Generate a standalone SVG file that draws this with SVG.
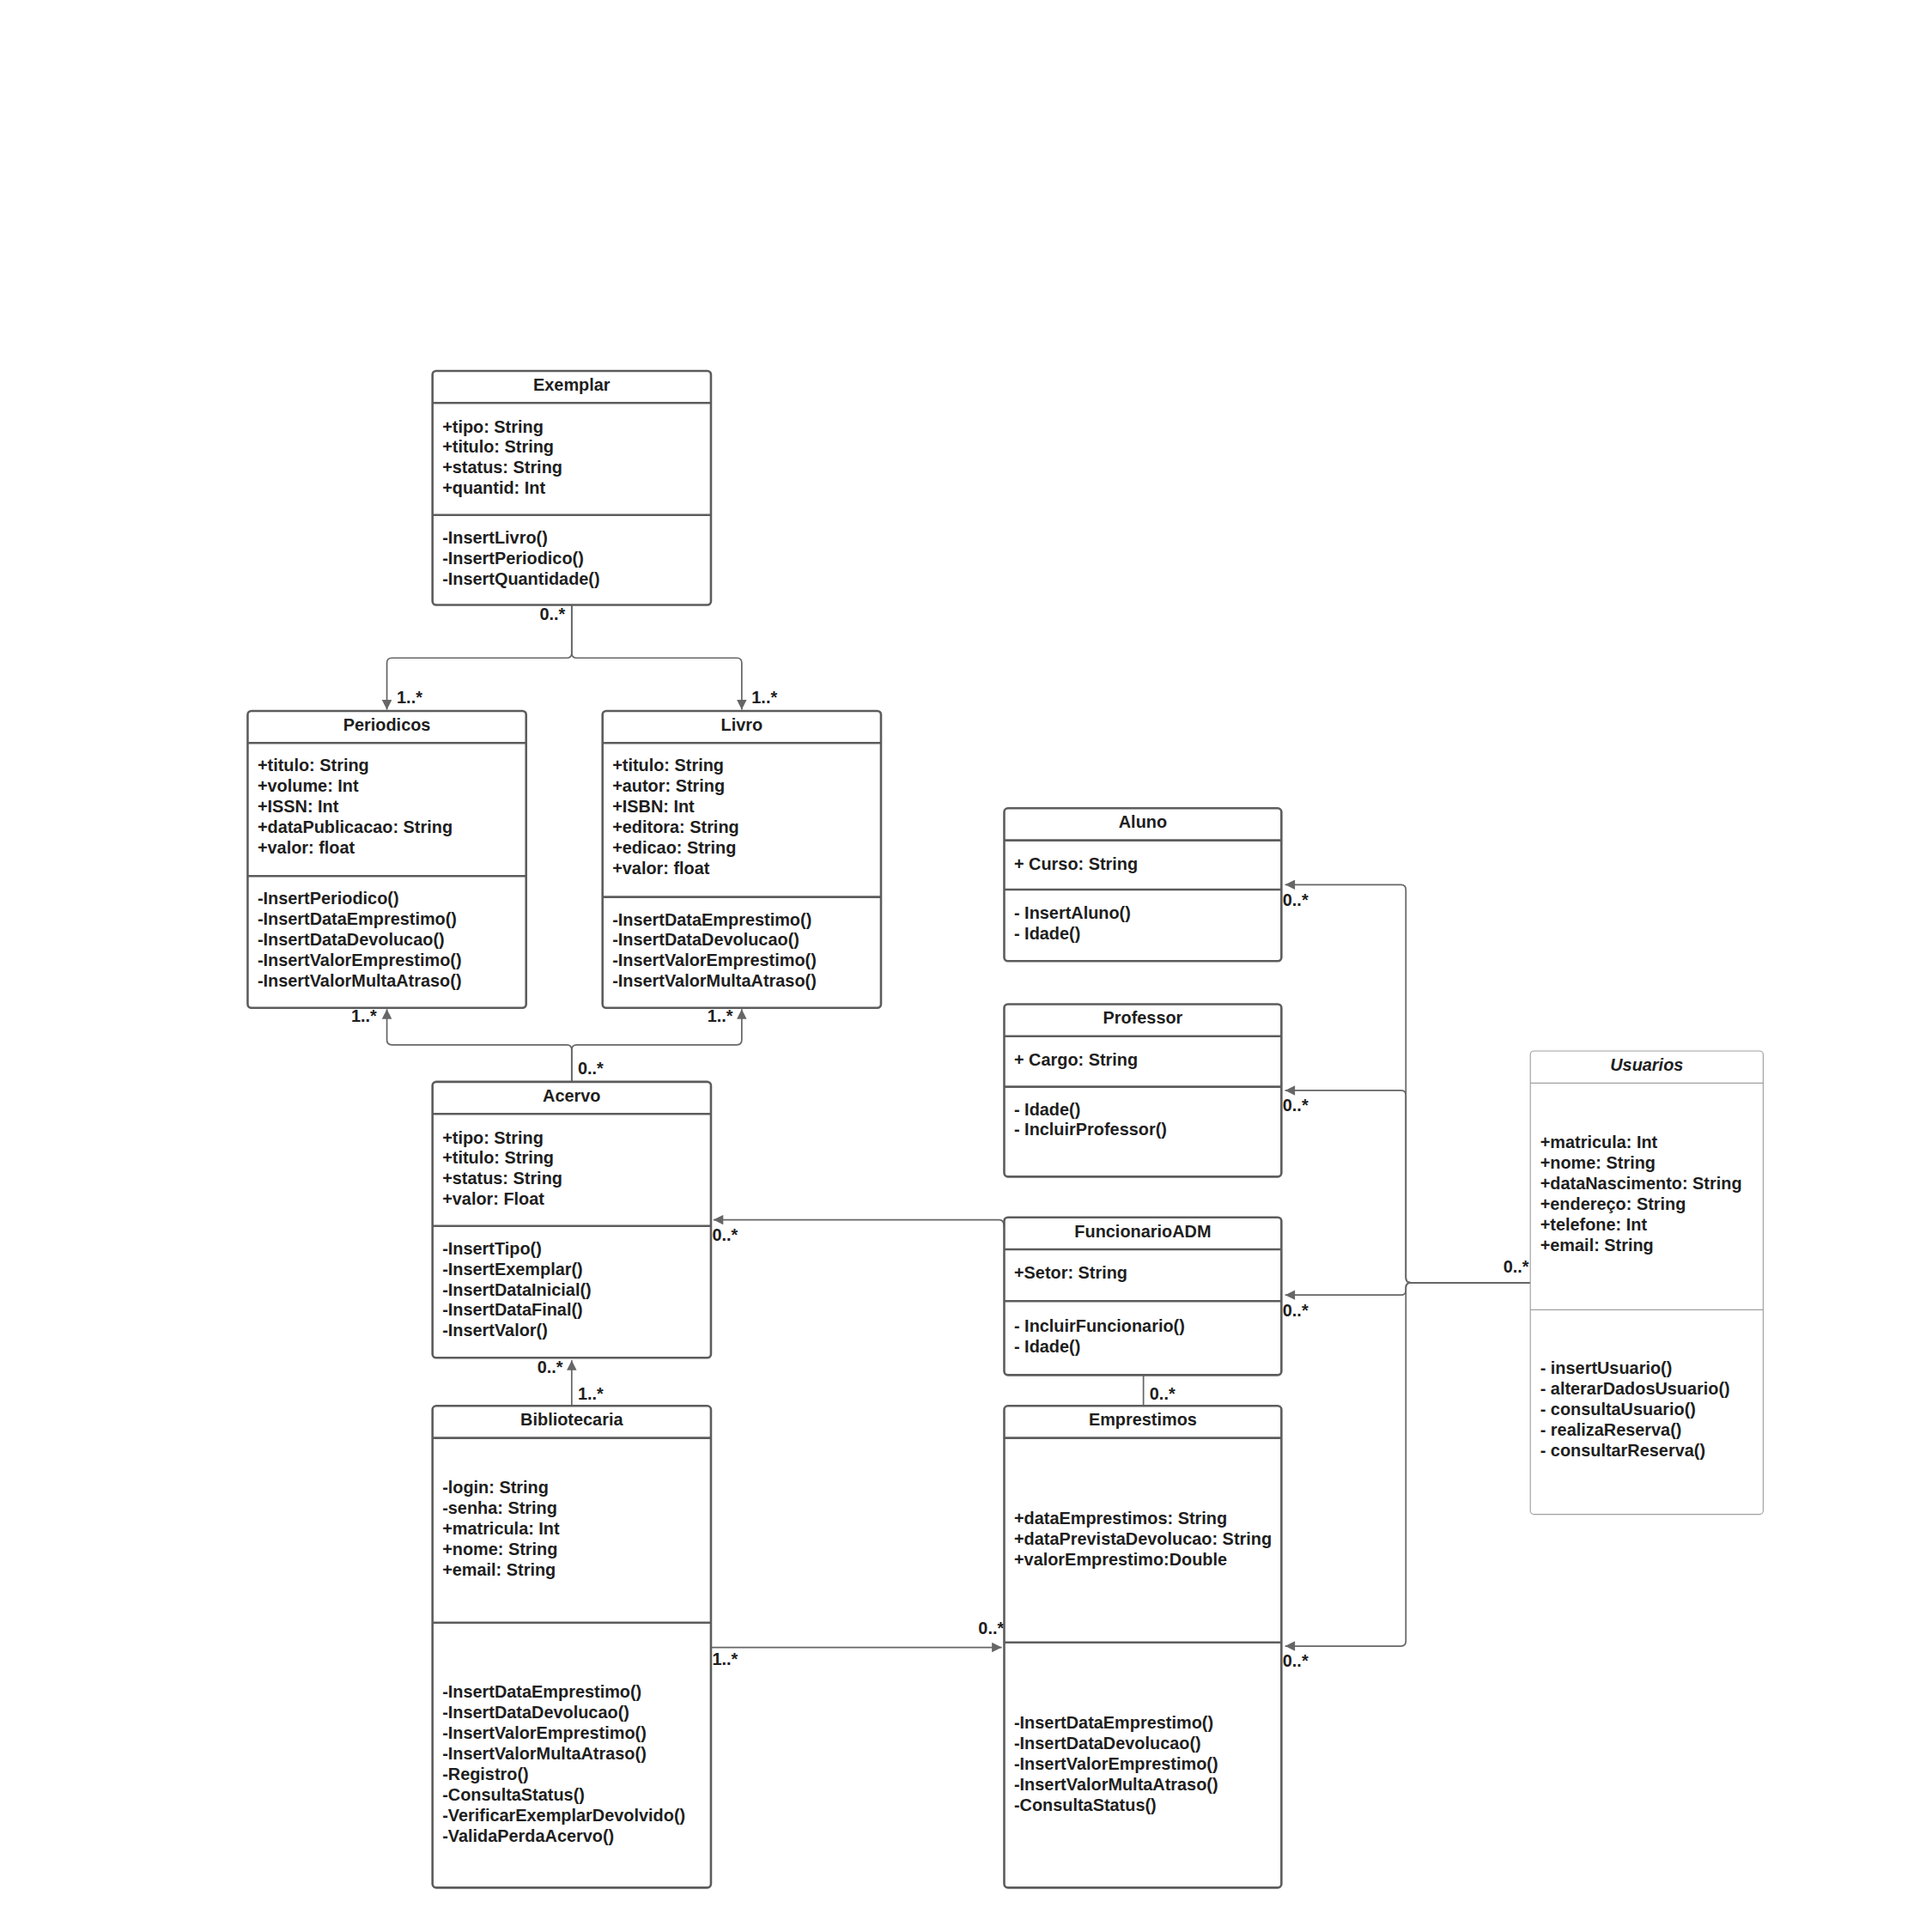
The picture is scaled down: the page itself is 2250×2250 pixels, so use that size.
<svg xmlns="http://www.w3.org/2000/svg" width="2250" height="2250" viewBox="0 0 2250 2250">
<style>
.box{fill:#fff;stroke:#5c5c5c;stroke-width:1.8}
.ubox{fill:#fff;stroke:#a0a0a0;stroke-width:0.8}
.sep{stroke:#5c5c5c;stroke-width:1.8}
.usep{stroke:#a0a0a0;stroke-width:0.8}
.t{font-family:"Liberation Sans",Arial,sans-serif;font-weight:bold;font-size:13.87px;fill:#1e1e1e}
.c{text-anchor:middle}
.i{font-style:italic}
.con{fill:none;stroke:#666;stroke-width:1.2}
</style>
<defs>
<marker id="arr" viewBox="0 0 10 10" refX="10" refY="5" markerWidth="11" markerHeight="8" markerUnits="userSpaceOnUse" orient="auto">
<path d="M0,0 L10,5 L0,10 z" fill="#666"/>
</marker>
</defs>
<rect width="2250" height="2250" fill="#fff"/>
<g transform="scale(1.43495)">
<g id="connectors">
<path class="con" d="M464 491 L464 530 Q464 534 460 534 L318 534 Q314 534 314 538 L314 576" marker-end="url(#arr)"/>
<path class="con" d="M464 491 L464 530 Q464 534 468 534 L598 534 Q602 534 602 538 L602 576" marker-end="url(#arr)"/>
<path class="con" d="M464 878 L464 852 Q464 848 460 848 L318 848 Q314 848 314 844 L314 819" marker-end="url(#arr)"/>
<path class="con" d="M464 878 L464 852 Q464 848 468 848 L598 848 Q602 848 602 844 L602 819" marker-end="url(#arr)"/>
<path class="con" d="M1242 1041 L1145 1041 Q1141 1041 1141 1037 L1141 722 Q1141 718 1137 718 L1043 718" marker-end="url(#arr)"/>
<path class="con" d="M1242 1041 L1145 1041 Q1141 1041 1141 1037 L1141 889 Q1141 885 1137 885 L1043 885" marker-end="url(#arr)"/>
<path class="con" d="M1242 1041 L1145 1041 Q1141 1041 1141 1045 L1141 1047 Q1141 1051 1137 1051 L1043 1051" marker-end="url(#arr)"/>
<path class="con" d="M1242 1041 L1145 1041 Q1141 1041 1141 1045 L1141 1332 Q1141 1336 1137 1336 L1043 1336" marker-end="url(#arr)"/>
<path class="con" d="M815 996 Q815 990 811 990 L579 990" marker-end="url(#arr)"/>
<path class="con" d="M928 1116 L928 1141"/>
<path class="con" d="M577 1337 L813 1337" marker-end="url(#arr)"/>
<path class="con" d="M464 1141 L464 1104" marker-end="url(#arr)"/>
<g class="t">
<text x="438" y="503">0..*</text>
<text x="322" y="571">1..*</text>
<text x="610" y="571">1..*</text>
<text x="285" y="829">1..*</text>
<text x="574" y="829">1..*</text>
<text x="469" y="872">0..*</text>
<text x="1041" y="735">0..*</text>
<text x="1041" y="902">0..*</text>
<text x="1041" y="1068">0..*</text>
<text x="1041" y="1353">0..*</text>
<text x="1220" y="1033">0..*</text>
<text x="578" y="1007">0..*</text>
<text x="933" y="1136">0..*</text>
<text x="436" y="1114">0..*</text>
<text x="469" y="1136">1..*</text>
<text x="578" y="1351">1..*</text>
<text x="794" y="1326">0..*</text>
</g>
</g>
<g id="Exemplar">
<rect class="box" x="351" y="301" width="226" height="190" rx="3"/>
<line class="sep" x1="351" y1="327" x2="577" y2="327"/>
<line class="sep" x1="351" y1="418" x2="577" y2="418"/>
<text class="t c" x="464" y="317">Exemplar</text>
<text class="t"><tspan x="359" y="351">+tipo: String</tspan><tspan x="359" y="367.6">+titulo: String</tspan><tspan x="359" y="384.3">+status: String</tspan><tspan x="359" y="400.9">+quantid: Int</tspan></text>
<text class="t"><tspan x="359" y="441">-InsertLivro()</tspan><tspan x="359" y="457.6">-InsertPeriodico()</tspan><tspan x="359" y="474.3">-InsertQuantidade()</tspan></text>
</g>
<g id="Periodicos">
<rect class="box" x="201" y="577" width="226" height="241" rx="3"/>
<line class="sep" x1="201" y1="603" x2="427" y2="603"/>
<line class="sep" x1="201" y1="711" x2="427" y2="711"/>
<text class="t c" x="314" y="593">Periodicos</text>
<text class="t"><tspan x="209" y="626">+titulo: String</tspan><tspan x="209" y="642.6">+volume: Int</tspan><tspan x="209" y="659.3">+ISSN: Int</tspan><tspan x="209" y="675.9">+dataPublicacao: String</tspan><tspan x="209" y="692.6">+valor: float</tspan></text>
<text class="t"><tspan x="209" y="734">-InsertPeriodico()</tspan><tspan x="209" y="750.6">-InsertDataEmprestimo()</tspan><tspan x="209" y="767.3">-InsertDataDevolucao()</tspan><tspan x="209" y="783.9">-InsertValorEmprestimo()</tspan><tspan x="209" y="800.6">-InsertValorMultaAtraso()</tspan></text>
</g>
<g id="Livro">
<rect class="box" x="489" y="577" width="226" height="241" rx="3"/>
<line class="sep" x1="489" y1="603" x2="715" y2="603"/>
<line class="sep" x1="489" y1="728" x2="715" y2="728"/>
<text class="t c" x="602" y="593">Livro</text>
<text class="t"><tspan x="497" y="626">+titulo: String</tspan><tspan x="497" y="642.6">+autor: String</tspan><tspan x="497" y="659.3">+ISBN: Int</tspan><tspan x="497" y="675.9">+editora: String</tspan><tspan x="497" y="692.6">+edicao: String</tspan><tspan x="497" y="709.2">+valor: float</tspan></text>
<text class="t"><tspan x="497" y="751">-InsertDataEmprestimo()</tspan><tspan x="497" y="767.6">-InsertDataDevolucao()</tspan><tspan x="497" y="784.3">-InsertValorEmprestimo()</tspan><tspan x="497" y="800.9">-InsertValorMultaAtraso()</tspan></text>
</g>
<g id="Acervo">
<rect class="box" x="351" y="878" width="226" height="224" rx="3"/>
<line class="sep" x1="351" y1="904" x2="577" y2="904"/>
<line class="sep" x1="351" y1="995" x2="577" y2="995"/>
<text class="t c" x="464" y="894">Acervo</text>
<text class="t"><tspan x="359" y="928">+tipo: String</tspan><tspan x="359" y="944.6">+titulo: String</tspan><tspan x="359" y="961.3">+status: String</tspan><tspan x="359" y="977.9">+valor: Float</tspan></text>
<text class="t"><tspan x="359" y="1018">-InsertTipo()</tspan><tspan x="359" y="1034.6">-InsertExemplar()</tspan><tspan x="359" y="1051.3">-InsertDataInicial()</tspan><tspan x="359" y="1067.9">-InsertDataFinal()</tspan><tspan x="359" y="1084.6">-InsertValor()</tspan></text>
</g>
<g id="Aluno">
<rect class="box" x="815" y="656" width="225" height="124" rx="3"/>
<line class="sep" x1="815" y1="682" x2="1040" y2="682"/>
<line class="sep" x1="815" y1="722" x2="1040" y2="722"/>
<text class="t c" x="927.5" y="672">Aluno</text>
<text class="t" x="823" y="706">+ Curso: String</text>
<text class="t"><tspan x="823" y="746">- InsertAluno()</tspan><tspan x="823" y="762.6">- Idade()</tspan></text>
</g>
<g id="Professor">
<rect class="box" x="815" y="815" width="225" height="140" rx="3"/>
<line class="sep" x1="815" y1="841" x2="1040" y2="841"/>
<line class="sep" x1="815" y1="882" x2="1040" y2="882"/>
<text class="t c" x="927.5" y="831">Professor</text>
<text class="t" x="823" y="865">+ Cargo: String</text>
<text class="t"><tspan x="823" y="905">- Idade()</tspan><tspan x="823" y="921.6">- IncluirProfessor()</tspan></text>
</g>
<g id="FuncionarioADM">
<rect class="box" x="815" y="988" width="225" height="128" rx="3"/>
<line class="sep" x1="815" y1="1014" x2="1040" y2="1014"/>
<line class="sep" x1="815" y1="1056" x2="1040" y2="1056"/>
<text class="t c" x="927.5" y="1004">FuncionarioADM</text>
<text class="t" x="823" y="1038">+Setor: String</text>
<text class="t"><tspan x="823" y="1081">- IncluirFuncionario()</tspan><tspan x="823" y="1097.6">- Idade()</tspan></text>
</g>
<g id="Emprestimos">
<rect class="box" x="815" y="1141" width="225" height="391" rx="3"/>
<line class="sep" x1="815" y1="1167" x2="1040" y2="1167"/>
<line class="sep" x1="815" y1="1333" x2="1040" y2="1333"/>
<text class="t c" x="927.5" y="1157">Emprestimos</text>
<text class="t"><tspan x="823" y="1237">+dataEmprestimos: String</tspan><tspan x="823" y="1253.6">+dataPrevistaDevolucao: String</tspan><tspan x="823" y="1270.3">+valorEmprestimo:Double</tspan></text>
<text class="t"><tspan x="823" y="1403">-InsertDataEmprestimo()</tspan><tspan x="823" y="1419.6">-InsertDataDevolucao()</tspan><tspan x="823" y="1436.3">-InsertValorEmprestimo()</tspan><tspan x="823" y="1452.9">-InsertValorMultaAtraso()</tspan><tspan x="823" y="1469.6">-ConsultaStatus()</tspan></text>
</g>
<g id="Bibliotecaria">
<rect class="box" x="351" y="1141" width="226" height="391" rx="3"/>
<line class="sep" x1="351" y1="1167" x2="577" y2="1167"/>
<line class="sep" x1="351" y1="1317" x2="577" y2="1317"/>
<text class="t c" x="464" y="1157">Bibliotecaria</text>
<text class="t"><tspan x="359" y="1212">-login: String</tspan><tspan x="359" y="1228.6">-senha: String</tspan><tspan x="359" y="1245.3">+matricula: Int</tspan><tspan x="359" y="1261.9">+nome: String</tspan><tspan x="359" y="1278.6">+email: String</tspan></text>
<text class="t"><tspan x="359" y="1378">-InsertDataEmprestimo()</tspan><tspan x="359" y="1394.6">-InsertDataDevolucao()</tspan><tspan x="359" y="1411.3">-InsertValorEmprestimo()</tspan><tspan x="359" y="1427.9">-InsertValorMultaAtraso()</tspan><tspan x="359" y="1444.6">-Registro()</tspan><tspan x="359" y="1461.2">-ConsultaStatus()</tspan><tspan x="359" y="1477.8">-VerificarExemplarDevolvido()</tspan><tspan x="359" y="1494.5">-ValidaPerdaAcervo()</tspan></text>
</g>
<g id="Usuarios">
<rect class="ubox" x="1242" y="853" width="189" height="376" rx="3"/>
<line class="usep" x1="1242" y1="879" x2="1431" y2="879"/>
<line class="usep" x1="1242" y1="1063" x2="1431" y2="1063"/>
<text class="t c i" x="1336.5" y="869">Usuarios</text>
<text class="t"><tspan x="1250" y="932">+matricula: Int</tspan><tspan x="1250" y="948.6">+nome: String</tspan><tspan x="1250" y="965.3">+dataNascimento: String</tspan><tspan x="1250" y="981.9">+endereço: String</tspan><tspan x="1250" y="998.6">+telefone: Int</tspan><tspan x="1250" y="1015.2">+email: String</tspan></text>
<text class="t"><tspan x="1250" y="1115">- insertUsuario()</tspan><tspan x="1250" y="1131.6">- alterarDadosUsuario()</tspan><tspan x="1250" y="1148.3">- consultaUsuario()</tspan><tspan x="1250" y="1164.9">- realizaReserva()</tspan><tspan x="1250" y="1181.6">- consultarReserva()</tspan></text>
</g>
</g>
</svg>
